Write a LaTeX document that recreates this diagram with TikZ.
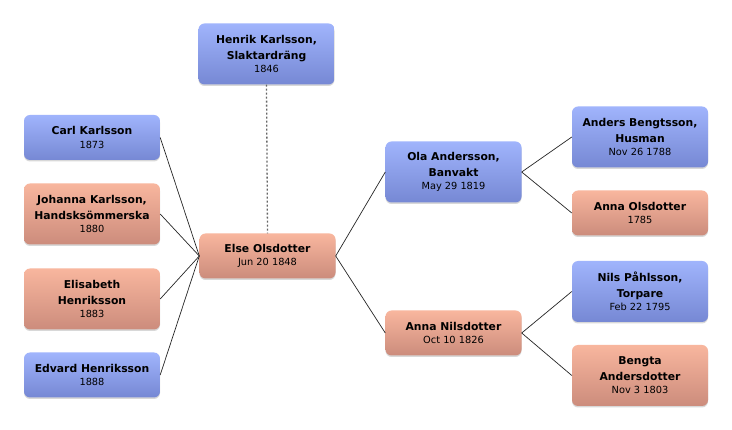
\documentclass[tikz,border=0pt]{standalone}
\usepackage{fontspec}
\setmainfont{DejaVu Sans}
\usetikzlibrary{shadows}
\definecolor{bluetop}{RGB}{160,180,252}
\definecolor{bluebot}{RGB}{118,136,212}
\definecolor{saltop}{RGB}{248,182,158}
\definecolor{salbot}{RGB}{204,140,124}
\tikzset{
  person/.style={rounded corners=6pt, minimum width=136pt, inner sep=2pt,
    align=center, font=\fontsize{10.8}{15.5}\selectfont\bfseries,
    drop shadow={shadow xshift=0pt, shadow yshift=-1.5pt, opacity=0.25, fill=black!60}},
  male/.style={person, top color=bluetop, bottom color=bluebot},
  female/.style={person, top color=saltop, bottom color=salbot},
  h2/.style={minimum height=45pt},
  h3/.style={minimum height=61pt},
  conn/.style={draw=black!85, line width=0.7pt},
}
\newcommand{\dt}[1]{\\[-2pt]{\fontsize{9.8}{12}\selectfont\mdseries #1}}
\begin{document}
\begin{tikzpicture}[x=1pt,y=-1pt]
\useasboundingbox (0,0) rectangle (732,430);
\fill[white] (0,0) rectangle (732,430);
\node[male,h3] (henrik) at (266.5,54) {Henrik Karlsson,\\Slaktardräng\dt{1846}};
\node[male,h2] (carl) at (92,137.5) {Carl Karlsson\dt{1873}};
\node[female,h3] (johanna) at (92,214) {Johanna Karlsson,\\Handsksömmerska\dt{1880}};
\node[female,h3] (elisabeth) at (92,299) {Elisabeth\\Henriksson\dt{1883}};
\node[male,h2] (edvard) at (92,375) {Edvard Henriksson\dt{1888}};
\node[female,h2] (else) at (267.5,256) {Else Olsdotter\dt{Jun 20 1848}};
\node[male,h3] (ola) at (453.5,172) {Ola Andersson,\\Banvakt\dt{May 29 1819}};
\node[female,h2] (annan) at (453.5,333) {Anna Nilsdotter\dt{Oct 10 1826}};
\node[male,h3] (anders) at (640,137) {Anders Bengtsson,\\Husman\dt{Nov 26 1788}};
\node[female,h2] (annao) at (640,213) {Anna Olsdotter\dt{1785}};
\node[male,h3] (nils) at (640,291.5) {Nils Påhlsson,\\Torpare\dt{Feb 22 1795}};
\node[female,h3] (bengta) at (640,375.5) {Bengta\\Andersdotter\dt{Nov 3 1803}};
\draw[draw=black!60, line width=1.3pt, dash pattern=on 2pt off 2pt] (henrik.south) -- (else.north);
\foreach \n in {carl,johanna,elisabeth,edvard}
  \draw[conn] (else.west) -- (\n.east);
\draw[conn] (else.east) -- (ola.west);
\draw[conn] (else.east) -- (annan.west);
\draw[conn] (ola.east) -- (anders.west);
\draw[conn] (ola.east) -- (annao.west);
\draw[conn] (annan.east) -- (nils.west);
\draw[conn] (annan.east) -- (bengta.west);
\end{tikzpicture}
\end{document}
